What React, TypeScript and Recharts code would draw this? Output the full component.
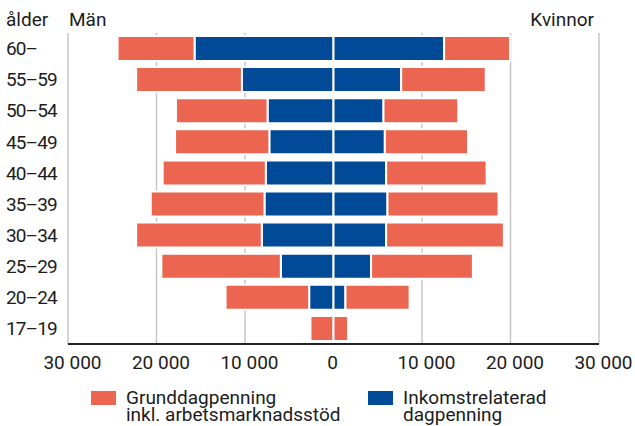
import { Bar, BarChart, CartesianGrid, XAxis, YAxis } from "recharts";

const AGE_GROUPS = ["60–", "55–59", "50–54", "45–49", "40–44", "35–39", "30–34", "25–29", "20–24", "17–19"];
// men are drawn to the left, so these get negated when the table is built
const MEN_INCOME = [15700, 10350, 7450, 7250, 7650, 7800, 8100, 5950, 2750, 0];
const MEN_BASIC = [8700, 11950, 10350, 10650, 11650, 12850, 14200, 13500, 9450, 2600];
const WOMEN_INCOME = [12500, 7650, 5650, 5800, 5950, 6100, 5950, 4250, 1350, 0];
const WOMEN_BASIC = [7450, 9550, 8450, 9400, 11350, 12550, 13300, 11500, 7250, 1650];

const X_TICKS = [-30000, -20000, -10000, 0, 10000, 20000, 30000];
const GRID_VALUES = [-30000, -20000, -10000, 10000, 20000, 30000];

const ORANGE = "#ec6550";
const BLUE = "#004a98";
const INK = "#1c1c1c";
const FONT = "Roboto, 'Noto Sans', sans-serif";

const data = AGE_GROUPS.map((age, i) => ({
  age,
  menIncome: -MEN_INCOME[i],
  menBasic: -MEN_BASIC[i],
  womenIncome: WOMEN_INCOME[i],
  womenBasic: WOMEN_BASIC[i],
}));

const fmt = (v: number) => String(Math.abs(v)).replace(/\B(?=(\d{3})+(?!\d))/g, " ");

function AgeTick(props: any) {
  const { y, payload } = props;
  return (
    <text x={6} y={y} dy="0.355em" fill={INK} fontSize={19} fontFamily={FONT} letterSpacing={-0.9}>
      {payload.value}
    </text>
  );
}

function ValueTick(props: any) {
  const { x, y, payload } = props;
  return (
    <text
      x={x}
      y={y}
      dx={payload.value === 0 ? -1 : 4.5}
      dy="0.71em"
      textAnchor="middle"
      fill={INK}
      fontSize={19}
      fontFamily={FONT}
    >
      {fmt(payload.value)}
    </text>
  );
}

export default function App() {
  return (
    <div style={{ position: "absolute", left: 0, top: 0, width: 635, height: 426, background: "#fff" }}>
      <BarChart
        width={635}
        height={426}
        data={data}
        layout="vertical"
        stackOffset="sign"
        margin={{ top: 33, right: 36, left: 0, bottom: 52 }}
      >
        <CartesianGrid horizontal={false} verticalValues={GRID_VALUES} stroke="#c6c6c6" strokeWidth={1.5} />
        <XAxis
          type="number"
          domain={[-30000, 30000]}
          ticks={X_TICKS}
          interval={0}
          height={30}
          tickSize={0}
          tickMargin={12}
          tickLine={false}
          axisLine={{ stroke: "#222", strokeWidth: 2 }}
          tick={<ValueTick />}
        />
        <YAxis
          type="category"
          dataKey="age"
          width={68}
          interval={0}
          axisLine={false}
          tickLine={false}
          tick={<AgeTick />}
        />
        <Bar dataKey="menIncome" stackId="a" fill={BLUE} stroke="#fff" strokeWidth={2} barSize={25} isAnimationActive={false} />
        <Bar dataKey="womenIncome" stackId="a" fill={BLUE} stroke="#fff" strokeWidth={2} barSize={25} isAnimationActive={false} />
        <Bar dataKey="menBasic" stackId="a" fill={ORANGE} stroke="#fff" strokeWidth={2} barSize={25} isAnimationActive={false} />
        <Bar dataKey="womenBasic" stackId="a" fill={ORANGE} stroke="#fff" strokeWidth={2} barSize={25} isAnimationActive={false} />
      </BarChart>

      <svg
        width={635}
        height={426}
        style={{ position: "absolute", left: 0, top: 0, pointerEvents: "none" }}
        fontFamily={FONT}
        fontSize={19}
        fill={INK}
      >
        <text x={6} y={25.5}>ålder</text>
        <text x={69} y={25.5}>Män</text>
        <text x={594} y={25.5} textAnchor="end">Kvinnor</text>

        <rect x={91} y={391} width={25} height={14} fill={ORANGE} />
        <text x={126} y={404}>Grunddagpenning</text>
        <text x={126} y={421}>inkl. arbetsmarknadsstöd</text>
        <rect x={368} y={391} width={25} height={14} fill={BLUE} />
        <text x={403} y={404}>Inkomstrelaterad</text>
        <text x={403} y={421}>dagpenning</text>
      </svg>
    </div>
  );
}
